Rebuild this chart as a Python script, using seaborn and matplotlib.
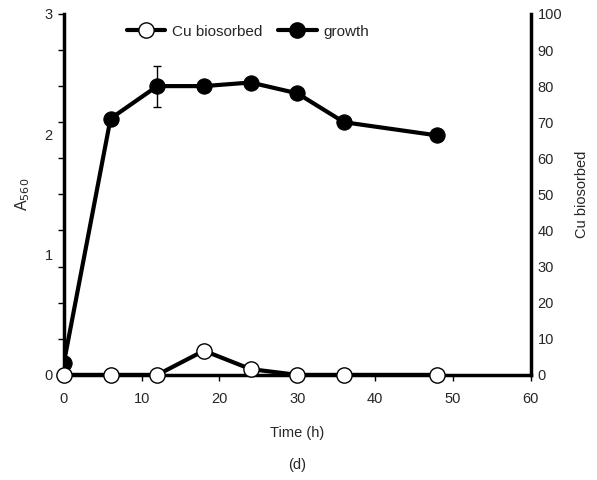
import numpy as np
import pandas as pd
import matplotlib
matplotlib.use("Agg")
import matplotlib.pyplot as plt
import seaborn as sns
from matplotlib.lines import Line2D

sns.set_theme(style="white")
plt.rcParams["font.family"] = ["Liberation Sans", "DejaVu Sans"]

time_h = [0, 6, 12, 18, 24, 30, 36, 48]
growth_a560 = [0.10, 2.13, 2.40, 2.40, 2.43, 2.34, 2.10, 1.99]
growth_err = [0, 0, 0.17, 0, 0, 0, 0, 0]
cu_biosorbed = [0, 0, 0, 6.7, 1.6, 0, 0, 0]

df = pd.DataFrame({"time": time_h, "growth": growth_a560, "cu": cu_biosorbed, "err": growth_err})

fig = plt.figure(figsize=(5.97, 4.80), dpi=100)
ax = fig.add_axes([0.107, 0.219, 0.782, 0.752])
ax2 = ax.twinx()

lw = 3
ms = 11
fs = 10.5

sns.lineplot(data=df, x="time", y="growth", ax=ax, color="black", lw=lw,
             marker="o", markersize=ms, markerfacecolor="black",
             markeredgecolor="black", legend=False, zorder=3)
ax.errorbar(df["time"], df["growth"], yerr=df["err"], fmt="none",
            ecolor="black", elinewidth=1, capsize=3, zorder=2)

sns.lineplot(data=df, x="time", y="cu", ax=ax2, color="black", lw=lw,
             marker="o", markersize=ms, markerfacecolor="white",
             markeredgecolor="black", markeredgewidth=1, legend=False,
             zorder=3, clip_on=False)

ax.set_xlim(0, 60)
ax.set_ylim(0, 3)
ax2.set_ylim(0, 100)

# Left axis: tick marks every 0.3, labels at whole numbers
ax.yaxis.remove_overlapping_locs = False
ax.set_yticks(np.arange(0, 3.01, 0.3))
ax.set_yticklabels([])
ax.set_yticks([0, 1, 2, 3], minor=True)
ax.set_yticklabels(["0", "1", "2", "3"], minor=True, fontsize=fs)
ax.tick_params(axis="y", which="major", direction="out", length=4, width=1, left=True, color="black")
ax.tick_params(axis="y", which="minor", length=0, pad=8)

ax.set_xticks(np.arange(0, 61, 10))
ax.tick_params(axis="x", direction="out", length=4, width=1, bottom=True,
               labelsize=fs, color="black", pad=8)

ax2.set_yticks(np.arange(0, 101, 10))
ax2.tick_params(axis="y", direction="out", length=0, labelsize=fs, pad=5)

for a in (ax, ax2):
    a.spines["top"].set_visible(False)
    for s in ("left", "right", "bottom"):
        a.spines[s].set_color("black")
        a.spines[s].set_linewidth(2.5)
ax.spines["right"].set_visible(False)
ax2.spines["left"].set_visible(False)
ax2.spines["bottom"].set_visible(False)

ax.set_xlabel("Time (h)", fontsize=fs, labelpad=15)
ax.set_ylabel("A$_{560}$", fontsize=11.5, labelpad=9)
ax2.set_ylabel("Cu biosorbed", fontsize=fs, labelpad=9)

fig.text(0.497, 0.031, "(d)", ha="center", va="center", fontsize=fs)

handles = [
    Line2D([], [], color="black", lw=lw, marker="o", markersize=ms,
           markerfacecolor="white", markeredgecolor="black"),
    Line2D([], [], color="black", lw=lw, marker="o", markersize=ms,
           markerfacecolor="black", markeredgecolor="black"),
]
ax2.legend(handles, ["Cu biosorbed", "growth"], loc="upper left",
           bbox_to_anchor=(0.135, 0.97), borderpad=0, borderaxespad=0,
           ncol=2, frameon=False, fontsize=11,
           handlelength=2.5, handletextpad=0.45, columnspacing=1.05)

ax.set_zorder(1)
ax2.set_zorder(2)
ax2.patch.set_visible(False)

fig.savefig("out.png", dpi=100)
